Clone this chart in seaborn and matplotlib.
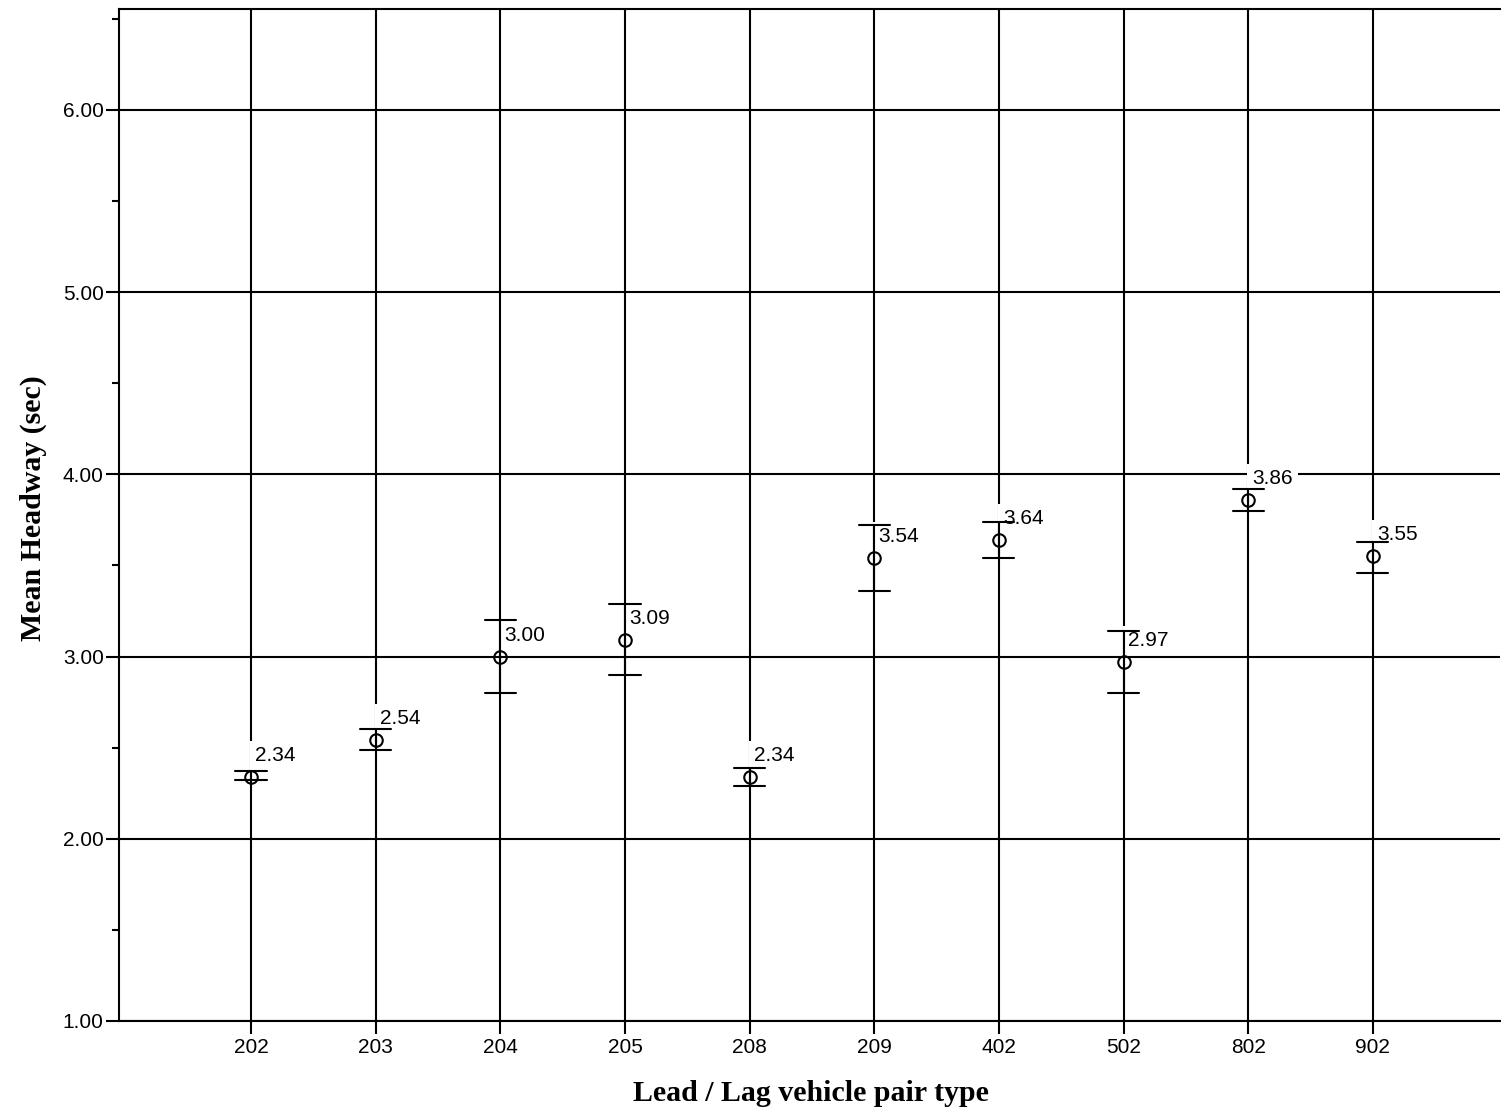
import matplotlib
matplotlib.use('Agg')

import matplotlib.pyplot as plt
import seaborn as sns
import pandas as pd
from matplotlib.ticker import MultipleLocator, FormatStrFormatter

# pair types and mean headway with 95% CI bounds
pair_types = ['202', '203', '204', '205', '208', '209', '402', '502', '802', '902']
means = [2.34, 2.54, 3.00, 3.09, 2.34, 3.54, 3.64, 2.97, 3.86, 3.55]
lower = [2.32, 2.49, 2.80, 2.90, 2.29, 3.36, 3.54, 2.80, 3.80, 3.46]
upper = [2.37, 2.60, 3.20, 3.29, 2.39, 3.72, 3.74, 3.14, 3.92, 3.63]

# long table: median of (lower, mean, upper) is the mean, min/max are the CI ends
rows = []
for pt, lo, m, hi in zip(pair_types, lower, means, upper):
    for v in (lo, m, hi):
        rows.append({'pair': pt, 'value': v})
df = pd.DataFrame(rows)

sns.set_style('white')
plt.rcParams['font.family'] = ['Liberation Sans', 'DejaVu Sans']
plt.rcParams['text.color'] = 'black'
plt.rcParams['axes.labelcolor'] = 'black'
plt.rcParams['xtick.color'] = 'black'
plt.rcParams['ytick.color'] = 'black'

fig = plt.figure(figsize=(15.01, 11.19), dpi=100)
ax = fig.add_axes([119 / 1501, 98 / 1119, 1381 / 1501, 1012 / 1119])

sns.pointplot(data=df, x='pair', y='value', order=pair_types,
              estimator='median', errorbar=('pi', 100),
              capsize=0.25, linestyle='none', marker='o',
              color='black', markersize=9, markerfacecolor='none',
              markeredgewidth=1.5, err_kws={'linewidth': 1.5}, ax=ax)

# value labels with white box that cuts the grid lines
for i, m in enumerate(means):
    ax.annotate(f'{m:.2f}', (i, m), xytext=(3, 11.5), textcoords='offset points',
                ha='left', va='baseline', fontsize=15, color='black', zorder=1.5,
                bbox=dict(boxstyle='square,pad=0.25', fc='white', ec='none'))

ax.set_xlim(-1.059, 10.02)
ax.set_ylim(1.0, 6.554)
ax.yaxis.set_major_locator(MultipleLocator(1))
ax.yaxis.set_minor_locator(MultipleLocator(0.5))
ax.yaxis.set_major_formatter(FormatStrFormatter('%.2f'))

ax.set_axisbelow(True)
ax.grid(True, which='major', color='black', linewidth=1.5)

for side in ['left', 'bottom', 'top']:
    ax.spines[side].set_color('black')
    ax.spines[side].set_linewidth(1.5)
ax.spines['right'].set_visible(False)

ax.tick_params(axis='y', which='major', direction='out', length=9.5, width=1.5,
               labelsize=15, pad=1.5, left=True, colors='black')
ax.tick_params(axis='y', which='minor', direction='out', length=5, width=1.5, left=True)
ax.tick_params(axis='x', which='major', direction='out', length=9.5, width=1.5,
               labelsize=15, pad=3, bottom=True, colors='black')

ax.set_xlabel('Lead / Lag vehicle pair type', fontsize=21.5, fontweight='bold',
              family='Liberation Serif', color='black')
ax.set_ylabel('Mean Headway (sec)', fontsize=21.5, fontweight='bold',
              family='Liberation Serif', color='black')
ax.xaxis.set_label_coords(0.501, -0.072)
ax.xaxis.label.set_va('center')
ax.yaxis.set_label_coords(-0.0623, 0.5064)
ax.yaxis.label.set_va('center')

plt.savefig('out.png', dpi=100)
plt.close()
